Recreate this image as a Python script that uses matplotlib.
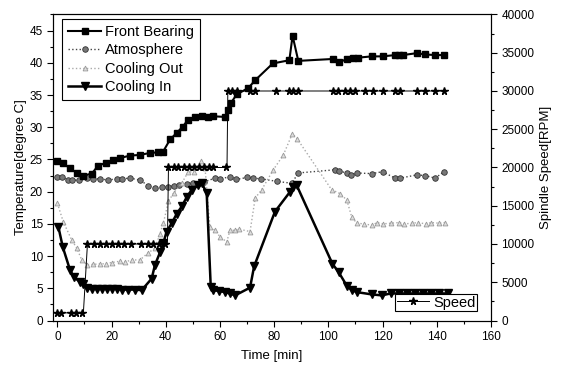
import matplotlib
matplotlib.use('Agg')
import matplotlib.pyplot as plt

plt.rcParams['font.family'] = ['Liberation Sans', 'DejaVu Sans']

# Front Bearing temperature
fb_t = [0, 2.2, 4.7, 7.2, 9.6, 12.7, 15, 18, 20.7, 23, 26.8, 30.5, 34, 37, 39,
        41.6, 44, 46.3, 48.3, 50.8, 53.3, 55.7, 57.5, 61.9, 62.9, 64.1, 66.2,
        70.5, 73, 79.5, 85.6, 86.8, 88.9, 101.8, 104, 107, 109, 111, 116, 120,
        124.6, 126, 127.5, 132.6, 135.7, 139.5, 142.5]
fb_v = [24.7, 24.4, 23.6, 22.9, 22.5, 22.8, 24.0, 24.5, 24.9, 25.2, 25.6, 25.7,
        26.0, 26.1, 26.2, 28.1, 29.1, 30.1, 31.2, 31.6, 31.8, 31.6, 31.7, 31.6,
        32.7, 33.8, 35.1, 36.1, 37.3, 39.9, 40.4, 44.2, 40.3, 40.6, 40.1, 40.6,
        40.8, 40.8, 41.0, 41.0, 41.2, 41.2, 41.2, 41.5, 41.3, 41.2, 41.2]

# Atmosphere
at_t = [0, 1.6, 4, 5.3, 7.8, 10.8, 13.3, 15.7, 18.8, 21.9, 24, 26.8, 30.5, 33.6,
        36, 38.5, 41, 43, 45, 48, 50, 52, 54, 58.2, 60, 63.7, 66, 70, 72.3, 75,
        81, 86.5, 88.9, 102.5, 104, 106.8, 108.5, 110.5, 116, 120, 124.6, 126.5,
        132.6, 135.7, 139.4, 142.7]
at_v = [22.3, 22.3, 21.8, 21.8, 21.8, 22.1, 22.0, 22.0, 21.8, 22.0, 22.0, 22.1,
        21.8, 20.9, 20.5, 20.7, 20.8, 20.9, 21.0, 21.2, 21.4, 21.2, 21.5, 22.1,
        22.0, 22.3, 21.9, 22.2, 22.1, 22.0, 21.6, 21.3, 22.9, 23.4, 23.2, 22.9,
        22.6, 22.9, 22.8, 23.1, 22.1, 22.1, 22.6, 22.5, 22.1, 23.1]

# Cooling Out
co_t = [0, 2.2, 5.3, 7.2, 9, 11.1, 13, 15.8, 18, 20, 23.1, 25, 27.5, 30.5, 33.5,
        36, 37.9, 39.1, 41, 42.9, 45.9, 48.3, 50.5, 52.9, 54.5, 56.3, 58.2, 60,
        62.5, 63.7, 65.5, 67, 71.1, 73, 75.4, 79.7, 83.4, 86.7, 88.5, 101.2,
        104.3, 106.8, 108.6, 110.5, 113, 116, 118, 120, 123, 126, 128, 131, 133,
        136, 138, 141, 143]
co_v = [18.2, 15.3, 12.5, 11.2, 9.4, 8.6, 8.7, 8.8, 8.8, 9.0, 9.2, 9.1, 9.4,
        9.4, 10.5, 11.2, 13.5, 15.1, 18.5, 19.8, 21.3, 23.1, 23.0, 24.7, 23.6,
        14.5, 14.0, 13.0, 12.2, 14.0, 14.0, 14.2, 13.8, 19.0, 20.3, 23.4, 25.7,
        29.0, 28.2, 20.3, 19.7, 18.7, 16.1, 15.1, 15.0, 14.8, 15.2, 15.0, 15.1,
        15.2, 15.0, 15.1, 15.2, 15.0, 15.2, 15.1, 15.2]

# Cooling In
ci_t = [0.4, 2, 4.7, 6.2, 8.4, 9.6, 11.1, 12.7, 14.5, 16.4, 18.2, 20.1, 21.9,
        23.8, 26.2, 28.7, 31.1, 34.8, 36, 37.9, 39.1, 40.3, 42.2, 44.1, 45.9,
        47.8, 49.6, 52, 53.3, 55.1, 56.6, 57.6, 59.5, 61.9, 63.7, 65.6, 71.1,
        72.6, 80.3, 85.9, 87.1, 88.3, 101.5, 103.8, 106.8, 108.8, 110.6, 116,
        119.7, 123, 126, 129, 132, 135, 138, 141, 144]
ci_v = [14.5, 11.4, 7.8, 6.7, 6.0, 5.6, 5.0, 4.9, 4.9, 4.9, 4.9, 4.9, 4.9, 4.8,
        4.8, 4.8, 4.7, 6.5, 8.6, 10.6, 12.0, 13.8, 15.1, 16.6, 17.7, 19.2, 20.3,
        21.0, 21.3, 19.8, 5.2, 4.7, 4.6, 4.4, 4.2, 3.9, 5.1, 8.4, 16.9, 20.0,
        20.8, 21.0, 8.8, 7.5, 5.4, 4.7, 4.4, 4.05, 3.9, 4.2, 4.2, 4.2, 4.2, 4.2,
        4.2, 4.2, 4.2]

# Spindle speed
sp_t = [0, 1.5, 5, 7, 9, 9.6, 11.1, 13.5, 15.7, 17.9, 20.2, 22.4, 24.6, 27.3,
        31, 33.4, 35.3, 37.5, 39.6, 40.6, 41, 42.9, 44.7, 46.6, 48.4, 50.3, 52.1,
        54, 55.8, 57.6, 62.3, 62.6, 62.9, 64.6, 66.4, 71.1, 73, 80.7, 85.6, 87,
        88.9, 101.8, 103.6, 106.1, 107.9, 109.8, 113.5, 116.3, 120, 124.6, 126.4,
        132.6, 135.7, 139.4, 142.7]
sp_v = [1000, 1000, 1000, 1000, 1000, 1000, 10000, 10000, 10000, 10000, 10000,
        10000, 10000, 10000, 10000, 10000, 10000, 10000, 10000, 10000, 20000,
        20000, 20000, 20000, 20000, 20000, 20000, 20000, 20000, 20000, 20000,
        20000, 30000, 30000, 30000, 30000, 30000, 30000, 30000, 30000, 30000,
        30000, 30000, 30000, 30000, 30000, 30000, 30000, 30000, 30000, 30000,
        30000, 30000, 30000, 30000]
sp_mark = [0, 1, 2, 3, 4] + list(range(6, 19)) + list(range(20, 31)) + list(range(32, 55))

fig = plt.figure(figsize=(5.64, 3.67), dpi=100)
ax = fig.add_axes([0.0945, 0.1267, 0.776, 0.8338])
ax2 = ax.twinx()

ax.plot(at_t, at_v, color='#444444', ls=':', lw=1.0, marker='o', ms=4,
        mfc='#777777', mec='#333333', mew=0.6, label='Atmosphere')
ax.plot(co_t, co_v, color='#aaaaaa', ls=':', lw=1.0, marker='^', ms=3.5,
        mfc='#dddddd', mec='#999999', mew=0.6, label='Cooling Out')
ax.plot(fb_t, fb_v, color='black', ls='-', lw=1.5, marker='s', ms=4,
        label='Front Bearing')
ax.plot(ci_t, ci_v, color='black', ls='-', lw=1.8, marker='v', ms=5.5,
        label='Cooling In')
ax2.plot(sp_t, sp_v, color='black', ls='-', lw=0.7, marker='*', ms=5.5,
         markevery=sp_mark, label='Speed')

ax.set_xlim(-1.5, 160)
ax.set_ylim(0, 47.5)
ax2.set_ylim(0, 40000)
ax.set_xticks(range(0, 161, 20))
ax.set_xticks(range(10, 160, 20), minor=True)
ax.set_yticks(range(0, 46, 5))
ax.set_yticks([2.5 + 5 * i for i in range(10)], minor=True)
ax2.set_yticks(range(0, 40001, 5000))
ax2.set_yticks(range(2500, 40000, 5000), minor=True)
ax2.ticklabel_format(axis='y', style='plain', useOffset=False)

for a in (ax, ax2):
    a.tick_params(direction='out', labelsize=8.5, length=4, width=0.8)
    a.tick_params(which='minor', direction='out', length=2.5, width=0.8)

ax.set_xlabel('Time [min]', fontsize=9.5, labelpad=5)
ax.set_ylabel('Temperature[degree C]', fontsize=9.5, labelpad=2)
ax2.set_ylabel('Spindle Speed[RPM]', fontsize=9.5, labelpad=4)

h, l = ax.get_legend_handles_labels()
order = [2, 0, 1, 3]
leg1 = ax2.legend([h[i] for i in order], [l[i] for i in order], loc='upper left',
                  bbox_to_anchor=(0.02, 0.985), borderaxespad=0, fontsize=10.5,
                  frameon=True, fancybox=False, edgecolor='black',
                  handlelength=2.3, borderpad=0.4, labelspacing=0.3,
                  handletextpad=0.25, framealpha=1)
leg1.get_frame().set_linewidth(0.8)
ax2.add_artist(leg1)
leg2 = ax2.legend(loc='lower right', bbox_to_anchor=(0.968, 0.031),
                  borderaxespad=0, fontsize=10.5, fancybox=False,
                  edgecolor='black', handlelength=2.2, borderpad=0.1,
                  handletextpad=0.3, framealpha=1)
leg2.get_frame().set_linewidth(0.8)

fig.savefig('out.png', dpi=100, facecolor='white')
